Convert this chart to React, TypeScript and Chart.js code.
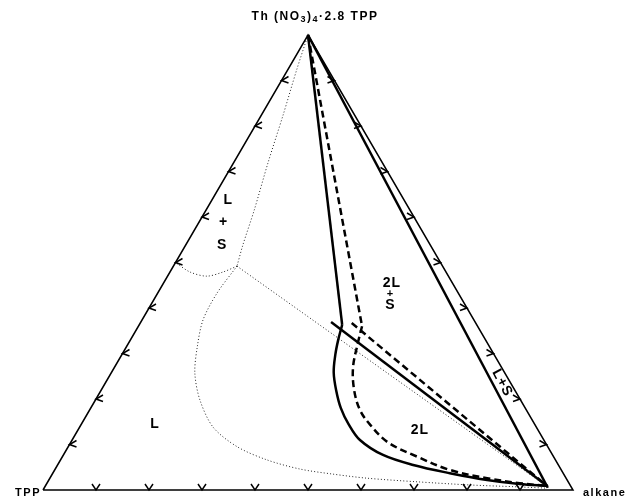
import React, { useEffect, useRef } from 'react';
import { Chart, registerables } from 'chart.js';
Chart.register(...registerables);

// Ternary compositions: alkane fraction (a) and Th(NO3)4·2.8TPP fraction (t); TPP = 1 - a - t
const triangleAlk = [0, 1, 0, 0];
const triangleTh = [0, 0, 1, 0];

const lsBoundaryAlk = [0, 0.95];
const lsBoundaryTh = [1, 0.005];

// solid system: straight leg from apex to tie-line end, then binodal curve
const solidLegAlk = [0, 0.383];
const solidLegTh = [1, 0.363];
const solidCurveAlk = [0.383, 0.392, 0.403, 0.419, 0.443, 0.472, 0.504, 0.543, 0.603, 0.671, 0.749, 0.827, 0.893, 0.947];
const solidCurveTh = [0.363, 0.33, 0.297, 0.259, 0.22, 0.18, 0.145, 0.11, 0.077, 0.055, 0.037, 0.022, 0.013, 0.009];

const solidTieAlk = [0.359, 0.948];
const solidTieTh = [0.369, 0.008];

// dashed system
const dashedLegAlk = [0, 0.422];
const dashedLegTh = [1, 0.36];
const dashedCurveAlk = [0.422, 0.432, 0.45, 0.477, 0.51, 0.546, 0.598, 0.67, 0.746, 0.825, 0.892, 0.947];
const dashedCurveTh = [0.36, 0.325, 0.27, 0.22, 0.176, 0.143, 0.105, 0.073, 0.044, 0.026, 0.015, 0.009];

const dashedTieAlk = [0.399, 0.948];
const dashedTieTh = [0.367, 0.008];

// dotted boundaries
const dotUpperAlk = [0, 0.017, 0.041, 0.065, 0.091, 0.108, 0.12];
const dotUpperTh = [1, 0.923, 0.824, 0.719, 0.615, 0.538, 0.492];

const dotLeftAlk = [0.12, 0.1, 0.074, 0.038, 0];
const dotLeftTh = [0.492, 0.479, 0.47, 0.479, 0.5];

const dotLowerAlk = [0.12, 0.112, 0.115, 0.134, 0.158, 0.197, 0.252, 0.319, 0.39, 0.462, 0.529, 0.598, 0.697, 0.801, 0.891, 0.949];
const dotLowerTh = [0.492, 0.433, 0.374, 0.314, 0.257, 0.198, 0.138, 0.095, 0.066, 0.046, 0.035, 0.026, 0.018, 0.011, 0.007, 0.004];

const dotTieAlk = [0.12, 0.948];
const dotTieTh = [0.492, 0.007];

const tickFractions = [0.1, 0.2, 0.3, 0.4, 0.5, 0.6, 0.7, 0.8, 0.9];

const regionLabels = ['L', '+', 'S', 'L', '2L', '+', 'S', '2L'];
const regionLabelAlk = [0.031, 0.046, 0.069, 0.139, 0.431, 0.44, 0.452, 0.645];
const regionLabelTh = [0.637, 0.589, 0.538, 0.145, 0.455, 0.431, 0.407, 0.132];

const toXY = (alk: number[], th: number[]) => alk.map((a, i) => ({ x: a + th[i] / 2, y: th[i] }));

const FONT = "'Liberation Sans', Arial, sans-serif";

const overlay = {
  id: 'overlay',
  afterDatasetsDraw(chart: any) {
    const { ctx, scales } = chart;
    const sx = scales.x, sy = scales.y;
    const P = (a: number, t: number) => [sx.getPixelForValue(a + t / 2), sy.getPixelForValue(t)];
    ctx.save();
    ctx.strokeStyle = '#000';
    ctx.fillStyle = '#000';
    ctx.lineWidth = 1.5;
    ctx.lineJoin = 'miter';
    for (const f of tickFractions) {
      // left edge
      let [px, py] = P(0, f);
      ctx.beginPath();
      ctx.moveTo(px + 7, py - 4);
      ctx.lineTo(px, py);
      ctx.lineTo(px + 7, py + 2.5);
      ctx.stroke();
      // right edge
      [px, py] = P(1 - f, f);
      ctx.beginPath();
      ctx.moveTo(px - 7, py - 4);
      ctx.lineTo(px, py);
      ctx.lineTo(px - 7, py + 2.5);
      ctx.stroke();
      // bottom edge
      [px, py] = P(f, 0);
      ctx.beginPath();
      ctx.moveTo(px - 4, py - 6);
      ctx.lineTo(px, py);
      ctx.lineTo(px + 4, py - 6);
      ctx.stroke();
    }

    // region labels
    ctx.textAlign = 'center';
    ctx.textBaseline = 'middle';
    (ctx as any).letterSpacing = '1px';
    regionLabels.forEach((txt, i) => {
      const [px, py] = P(regionLabelAlk[i], regionLabelTh[i]);
      const small = txt === '+' && i === 5;
      ctx.font = `bold ${small ? 11 : 14}px ${FONT}`;
      ctx.fillText(txt, px, py);
    });

    // rotated L+S label along the liquid + solid boundary
    const [la, lb] = P(lsBoundaryAlk[0], lsBoundaryTh[0]);
    const [lc, ld] = P(lsBoundaryAlk[1], lsBoundaryTh[1]);
    const ang = Math.atan2(ld - lb, lc - la);
    const [qx, qy] = P(0.749, 0.235);
    ctx.save();
    ctx.translate(qx, qy);
    ctx.rotate(ang);
    ctx.font = `bold 14px ${FONT}`;
    ctx.fillText('L+S', 0, 0);
    ctx.restore();

    // vertex labels
    (ctx as any).letterSpacing = '1.5px';
    ctx.font = `bold 11px ${FONT}`;
    ctx.textBaseline = 'middle';
    const [lx, ly] = P(0, 0);
    ctx.textAlign = 'right';
    ctx.fillText('TPP', lx - 2, ly + 3);
    const [rx, ry] = P(1, 0);
    ctx.textAlign = 'left';
    ctx.fillText('alkane', rx + 10, ry + 3);

    const [tx, ty] = P(0, 1);
    const parts: [string, boolean][] = [['Th (NO', false], ['3', true], [')', false], ['4', true], ['\u00b72.8 TPP', false]];
    const fontFor = (sub: boolean) => `bold ${sub ? 9 : 12}px ${FONT}`;
    let total = 0;
    for (const [s, sub] of parts) { ctx.font = fontFor(sub); total += ctx.measureText(s).width; }
    let cx = tx + 7 - total / 2;
    ctx.textAlign = 'left';
    for (const [s, sub] of parts) {
      ctx.font = fontFor(sub);
      ctx.fillText(s, cx, ty - (sub ? 15 : 18));
      cx += ctx.measureText(s).width;
    }
    ctx.restore();
  },
};

export default function App() {
  const ref = useRef<HTMLCanvasElement>(null);
  useEffect(() => {
    const line = (data: any[], width: number, dash: number[] = [], color = '#000', tension = 0) => ({
      data,
      showLine: true,
      borderColor: color,
      borderWidth: width,
      borderDash: dash,
      pointRadius: 0,
      pointHoverRadius: 0,
      fill: false,
      tension,
      clip: false as any,
    });
    const chart = new Chart(ref.current!, {
      type: 'scatter',
      data: {
        datasets: [
          line(toXY(triangleAlk, triangleTh), 1.5),
          line(toXY(lsBoundaryAlk, lsBoundaryTh), 2.5),
          line(toXY(dotUpperAlk, dotUpperTh), 1, [1, 2.2], '#222', 0.3),
          line(toXY(dotLeftAlk, dotLeftTh), 1, [1, 2.2], '#222', 0.3),
          line(toXY(dotLowerAlk, dotLowerTh), 1, [1, 2.2], '#222', 0.3),
          line(toXY(dotTieAlk, dotTieTh), 1, [1, 2.2], '#222'),
          line(toXY(solidLegAlk, solidLegTh), 2.5),
          line(toXY(solidCurveAlk, solidCurveTh), 2.5, [], '#000', 0.35),
          line(toXY(solidTieAlk, solidTieTh), 2.5),
          line(toXY(dashedLegAlk, dashedLegTh), 2.5, [7, 4]),
          line(toXY(dashedCurveAlk, dashedCurveTh), 2.5, [7, 4], '#000', 0.35),
          line(toXY(dashedTieAlk, dashedTieTh), 2.5, [7, 4]),
        ] as any,
      },
      options: {
        responsive: false,
        animation: false,
        layout: { padding: { left: 43, right: 52, top: 35, bottom: 9 } },
        plugins: { legend: { display: false }, tooltip: { enabled: false } },
        events: [],
        scales: {
          x: { type: 'linear', min: 0, max: 1, display: false },
          y: { type: 'linear', min: 0, max: 1, display: false },
        },
      },
      plugins: [overlay],
    });
    return () => chart.destroy();
  }, []);
  return (
    <div style={{ position: 'fixed', left: 0, top: 0, width: 625, height: 499, background: '#fff' }}>
      <canvas ref={ref} width={625} height={499} style={{ display: 'block' }} />
    </div>
  );
}
